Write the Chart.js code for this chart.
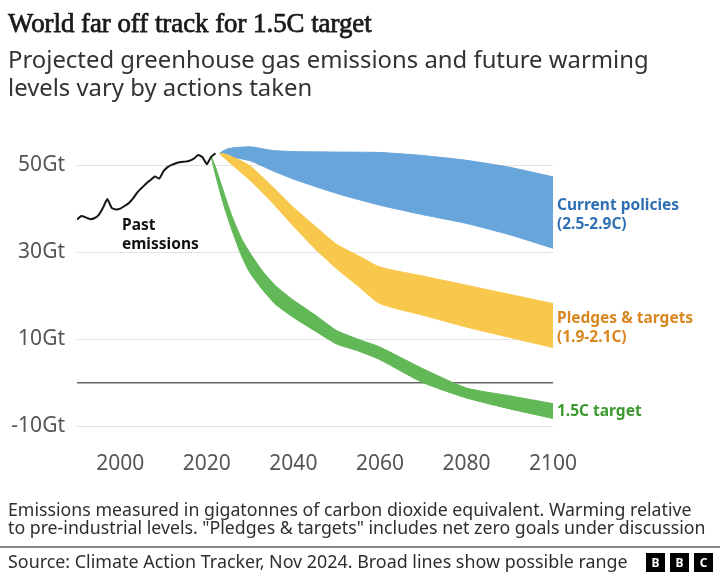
<!DOCTYPE html>
<html>
<head>
<meta charset="utf-8">
<script src="https://cdn.jsdelivr.net/npm/chart.js@4.4.1/dist/chart.umd.min.js"></script>
<style>
    html, body { margin: 0; padding: 0; background: #fff; }
    body { width: 720px; height: 573px; position: relative; overflow: hidden; font-family: "Noto Sans", sans-serif; }
    #grafico { position: absolute; left: 0; top: 0; }
    .txt { position: absolute; left: 8px; white-space: nowrap; line-height: 1; }
    .serif { font-family: "Liberation Serif", serif; color: #1a1a1a; -webkit-text-stroke: 0.75px #1a1a1a; }
    .sub { color: #333; }
    .pie { color: #2e2e2e; }
    #linea { position: absolute; left: 0; top: 546px; width: 720px; height: 2px; background: #8a8a8a; }
    .bbc { position: absolute; top: 553px; width: 19px; height: 19px; background: #000; color: #fff;
           font: bold 12px "Noto Sans", sans-serif; line-height: 19px; text-align: center; }
</style>
</head>
<body>
<canvas id="grafico" width="720" height="573"></canvas>

<div class="txt serif" data-ancho="364" data-base="32" data-k="0.8375" style="font-size:27px">World far off track for 1.5C target</div>
<div class="txt sub" data-ancho="641" data-base="68" data-k="0.888" data-grupo="sub" style="font-size:22px">Projected greenhouse gas emissions and future warming</div>
<div class="txt sub" data-base="96" data-k="0.888" data-grupo="sub" style="font-size:22px">levels vary by actions taken</div>
<div class="txt pie" data-base="517" data-k="0.888" data-grupo="pie" style="font-size:15px">Emissions measured in gigatonnes of carbon dioxide equivalent. Warming relative</div>
<div class="txt pie" data-ancho="698" data-base="535" data-k="0.888" data-grupo="pie" style="font-size:15px">to pre-industrial levels. "Pledges &amp; targets" includes net zero goals under discussion</div>
<div id="linea"></div>
<div class="txt pie" data-ancho="620" data-base="569" data-k="0.888" style="font-size:15px">Source: Climate Action Tracker, Nov 2024. Broad lines show possible range</div>
<div class="bbc" style="left:646px">B</div>
<div class="bbc" style="left:670px">B</div>
<div class="bbc" style="left:694px">C</div>

<script>
// Emisiones históricas (Gt CO2e)
const aniosPasado = [1990, 1991, 1992, 1993, 1994, 1995, 1996, 1997, 1998, 1999, 2000, 2001, 2002, 2003, 2004, 2005,
    2006, 2007, 2008, 2009, 2010, 2011, 2012, 2013, 2014, 2015, 2016, 2017, 2018, 2019, 2020, 2021, 2022];
const emisionesPasado = [37.5, 38.3, 38.0, 37.6, 37.8, 38.5, 40.2, 42.2, 40.2, 39.8, 40.0, 40.6, 41.3, 42.4, 43.8, 44.8,
    45.8, 46.6, 47.4, 46.9, 48.6, 49.6, 50.1, 50.5, 50.7, 50.8, 51.0, 51.5, 52.3, 51.8, 50.2, 51.9, 52.7];

// Políticas actuales (rango)
const aniosPoliticas = [2023, 2025, 2030, 2035, 2040, 2050, 2060, 2070, 2080, 2090, 2100];
const politicasMin = [52.6, 52.0, 51.0, 48.8, 46.8, 43.5, 40.8, 38.6, 36.6, 34.0, 30.9];
const politicasMax = [52.8, 53.8, 54.2, 53.4, 53.1, 53.0, 52.9, 52.2, 51.1, 49.5, 47.3];

// Compromisos y objetivos (rango)
const aniosCompromisos = [2023, 2025, 2030, 2035, 2040, 2045, 2050, 2055, 2060, 2070, 2080, 2090, 2100];
const compromisosMin = [52.6, 50.8, 46.5, 41.5, 36.0, 30.8, 26.2, 22.2, 18.2, 15.5, 12.8, 10.4, 8.1];
const compromisosMax = [52.8, 52.3, 49.8, 45.2, 40.3, 36.0, 31.8, 29.2, 26.6, 24.5, 22.4, 20.3, 18.2];

// Objetivo 1.5C (rango)
const anios15 = [2021, 2022, 2024, 2026, 2028, 2030, 2033, 2036, 2040, 2045, 2050, 2055, 2060, 2070, 2080, 2090, 2100];
const objetivo15Min = [52.0, 47.8, 40.5, 34.5, 29.2, 25.2, 21.2, 17.9, 15.0, 11.9, 8.9, 7.3, 5.3, 0.0, -3.5, -6.0, -8.2];
const objetivo15Max = [52.0, 49.6, 43.5, 37.8, 33.2, 29.8, 25.5, 22.2, 19.0, 15.6, 12.0, 10.0, 8.2, 3.2, -1.2, -3.0, -4.8];

const ticksX = [2000, 2020, 2040, 2060, 2080, 2100];
const ticksY = [-10, 0, 10, 30, 50];

const etiquetas = [
    { lineas: ['Current policies', '(2.5-2.9C)'], valor: 40.8, color: '#2f70b4', lado: 'derecha' },
    { lineas: ['Pledges & targets', '(1.9-2.1C)'], valor: 14.8, color: '#d9861e', lado: 'derecha' },
    { lineas: ['1.5C target'], valor: -6.6, color: '#3a9a2e', lado: 'derecha' },
    { lineas: ['Past', 'emissions'], valor: 36.0, anio: 2000.4, color: '#111', lado: 'dentro' }
];

function puntos(xs, ys) {
    return xs.map((x, i) => ({ x: x, y: ys[i] }));
}

function banda(xs, ys, color, relleno) {
    return {
        data: puntos(xs, ys),
        borderColor: color,
        backgroundColor: color,
        borderWidth: 1,
        fill: relleno,
        pointRadius: 0,
        tension: 0.2
    };
}

// Plugin para las etiquetas de texto
const pluginEtiquetas = {
    id: 'etiquetas',
    afterDatasetsDraw(chart) {
        const ctx = chart.ctx;
        const sx = chart.scales.x, sy = chart.scales.y;
        ctx.save();
        ctx.font = 'bold 15.5px "Noto Sans"';
        ctx.textBaseline = 'middle';
        ctx.textAlign = 'left';
        etiquetas.forEach(e => {
            const x = e.lado === 'derecha' ? chart.chartArea.right + 4 : sx.getPixelForValue(e.anio);
            const y0 = sy.getPixelForValue(e.valor);
            ctx.fillStyle = e.color;
            e.lineas.forEach((t, i) => ctx.fillText(t, x, y0 + i * 19));
        });
        ctx.restore();
    }
};

new Chart(document.getElementById('grafico'), {
    type: 'line',
    data: {
        datasets: [
            { data: puntos(aniosPasado, emisionesPasado), borderColor: '#151515', borderWidth: 2, pointRadius: 0, tension: 0.15, fill: false },
            banda(anios15, objetivo15Min, '#62b856', false),
            banda(anios15, objetivo15Max, '#62b856', '-1'),
            banda(aniosCompromisos, compromisosMin, '#f8c84c', false),
            banda(aniosCompromisos, compromisosMax, '#f8c84c', '-1'),
            banda(aniosPoliticas, politicasMin, '#68a5da', false),
            banda(aniosPoliticas, politicasMax, '#68a5da', '-1')
        ]
    },
    options: {
        responsive: false,
        animation: false,
        layout: { padding: { left: 0, right: 167, top: 139, bottom: 98 } },
        plugins: { legend: { display: false }, tooltip: { enabled: false } },
        scales: {
            x: {
                type: 'linear', min: 1990, max: 2100,
                grid: { display: false }, border: { display: false },
                afterBuildTicks: s => { s.ticks = ticksX.map(v => ({ value: v })); },
                afterFit: s => { s.height = 40; },
                ticks: { font: { family: 'Noto Sans', size: 21 }, color: '#555', padding: 8, maxRotation: 0, autoSkip: false,
                         callback: v => String(v) }
            },
            y: {
                min: -12, max: 56,
                border: { display: false },
                afterBuildTicks: s => { s.ticks = ticksY.map(v => ({ value: v })); },
                afterFit: s => { s.width = 77; },
                grid: {
                    drawTicks: false,
                    color: c => c.tick.value === 0 ? '#666' : '#e2e2e2',
                    lineWidth: c => c.tick.value === 0 ? 1.5 : 1
                },
                ticks: { font: { family: 'Noto Sans', size: 21 }, color: '#555', padding: 12,
                         callback: v => v === 0 ? '' : v + 'Gt' }
            }
        }
    },
    plugins: [pluginEtiquetas]
});

// Ajustar textos al ancho del original
const grupos = {};
document.querySelectorAll('.txt').forEach(el => {
    const g = el.dataset.grupo || el.textContent;
    (grupos[g] = grupos[g] || []).push(el);
});
Object.values(grupos).forEach(els => {
    const ref = els.find(e => e.dataset.ancho);
    let size = parseFloat(ref.style.fontSize);
    size = size * parseFloat(ref.dataset.ancho) / ref.getBoundingClientRect().width;
    els.forEach(el => {
        el.style.fontSize = size + 'px';
        el.style.top = (parseFloat(el.dataset.base) - parseFloat(el.dataset.k) * size) + 'px';
    });
});
</script>
</body>
</html>
